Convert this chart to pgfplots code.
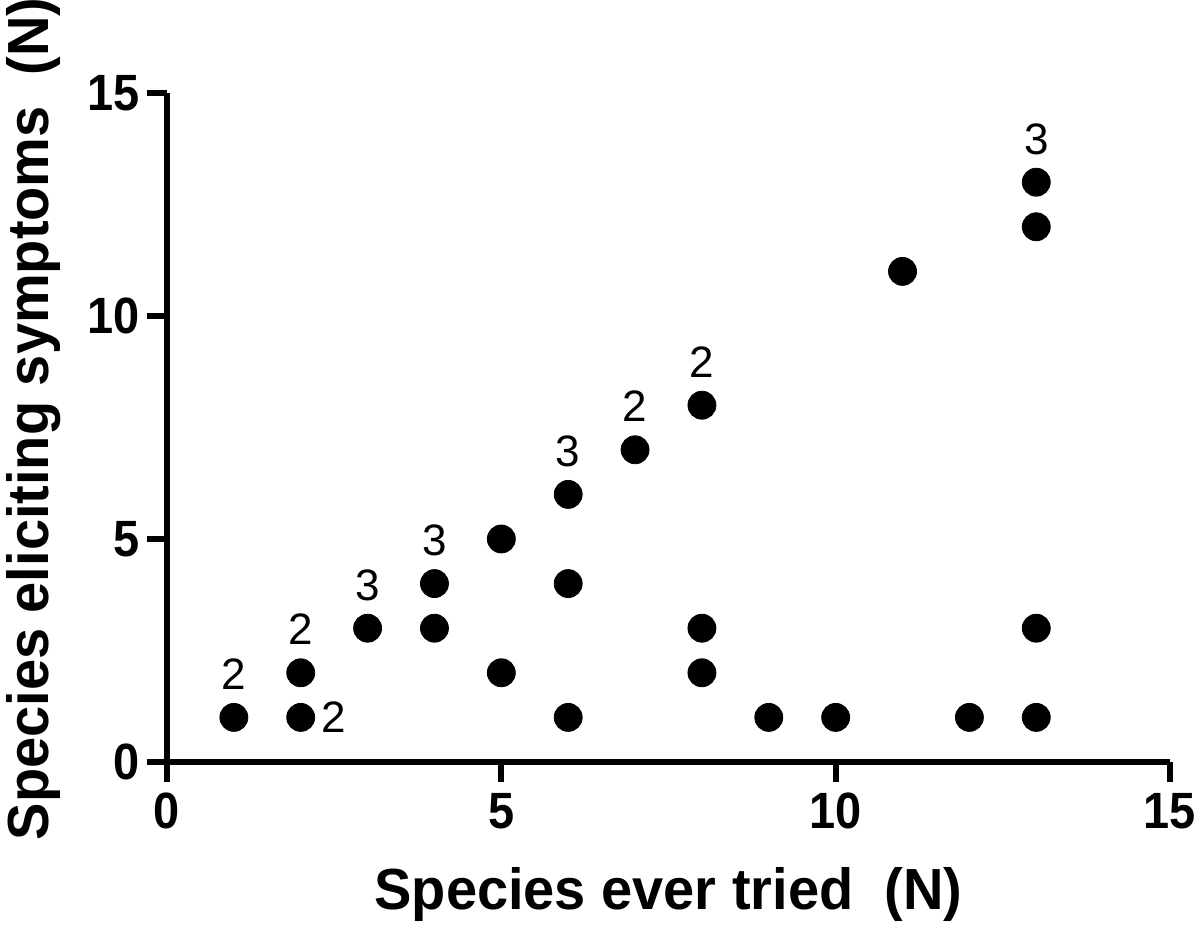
\documentclass[border=0pt]{standalone}
\usepackage{fontspec}
\setmainfont{Liberation Sans}
\newfontfamily\labfont[FakeStretch=0.965]{Liberation Sans}
\newfontfamily\tickfont[FakeStretch=0.92]{Liberation Sans}
\usepackage{pgfplots}
\pgfplotsset{compat=1.18}
\begin{document}
\begin{tikzpicture}
\useasboundingbox (-83.5pt,-83.5pt) rectangle (516.5pt,381pt);
\begin{axis}[
  at={(0,0)}, anchor=south west,
  scale only axis, width=501.5pt, height=334.5pt,
  xmin=0, xmax=15, ymin=0, ymax=15,
  axis x line=bottom, axis y line=left,
  axis line style={line width=3pt, -},
  x axis line style={line width=3pt, -},
  y axis line style={line width=3pt, -},
  tick style={line width=3pt, black},
  every major tick/.append style={line width=3pt, black},
  major tick length=10pt, tick align=outside,
  xtick={0,5,10,15}, ytick={0,5,10,15},
  /pgf/number format/assume math mode=true,
  tick label style={font=\tickfont\fontsize{25.5}{25.5}\selectfont\bfseries},
  xticklabel style={yshift=-2pt},
  yticklabel style={xshift=0pt},
  xlabel={Species ever tried~~(N)},
  ylabel={Species eliciting symptoms~~(N)},
  label style={font=\labfont\fontsize{29}{29}\selectfont\bfseries},
  xlabel style={at={(axis description cs:0.5,0)}, anchor=base, yshift=-74pt},
  ylabel style={at={(axis description cs:-0.1186,0.513)}, anchor=base},
  clip=false,
]
\addplot[only marks, mark=*, mark size=7pt, black] coordinates {
(1,1)(2,1)(2,2)(3,3)(4,3)(4,4)(5,5)(5,2)(6,6)(6,4)(6,1)(7,7)(8,8)(8,3)(8,2)(9,1)(10,1)(11,11)(12,1)(13,13)(13,12)(13,3)(13,1)
};
\addplot[only marks, mark=none, nodes near coords, point meta=explicit symbolic,
  every node near coord/.style={anchor=base, inner sep=0pt, yshift=14pt, font=\fontsize{22}{22}\selectfont}]
  table[meta=l] {
x y l
1 1 2
2 2 2
3 3 3
4 4 3
6 6 3
7 7 2
8 8 2
13 13 3
};
\addplot[only marks, mark=none, nodes near coords, point meta=explicit symbolic,
  every node near coord/.style={anchor=base west, inner sep=0pt, xshift=10pt, yshift=-7.5pt, font=\fontsize{22}{22}\selectfont}]
  table[meta=l] {
x y l
2 1 2
};
\end{axis}
\end{tikzpicture}
\end{document}
